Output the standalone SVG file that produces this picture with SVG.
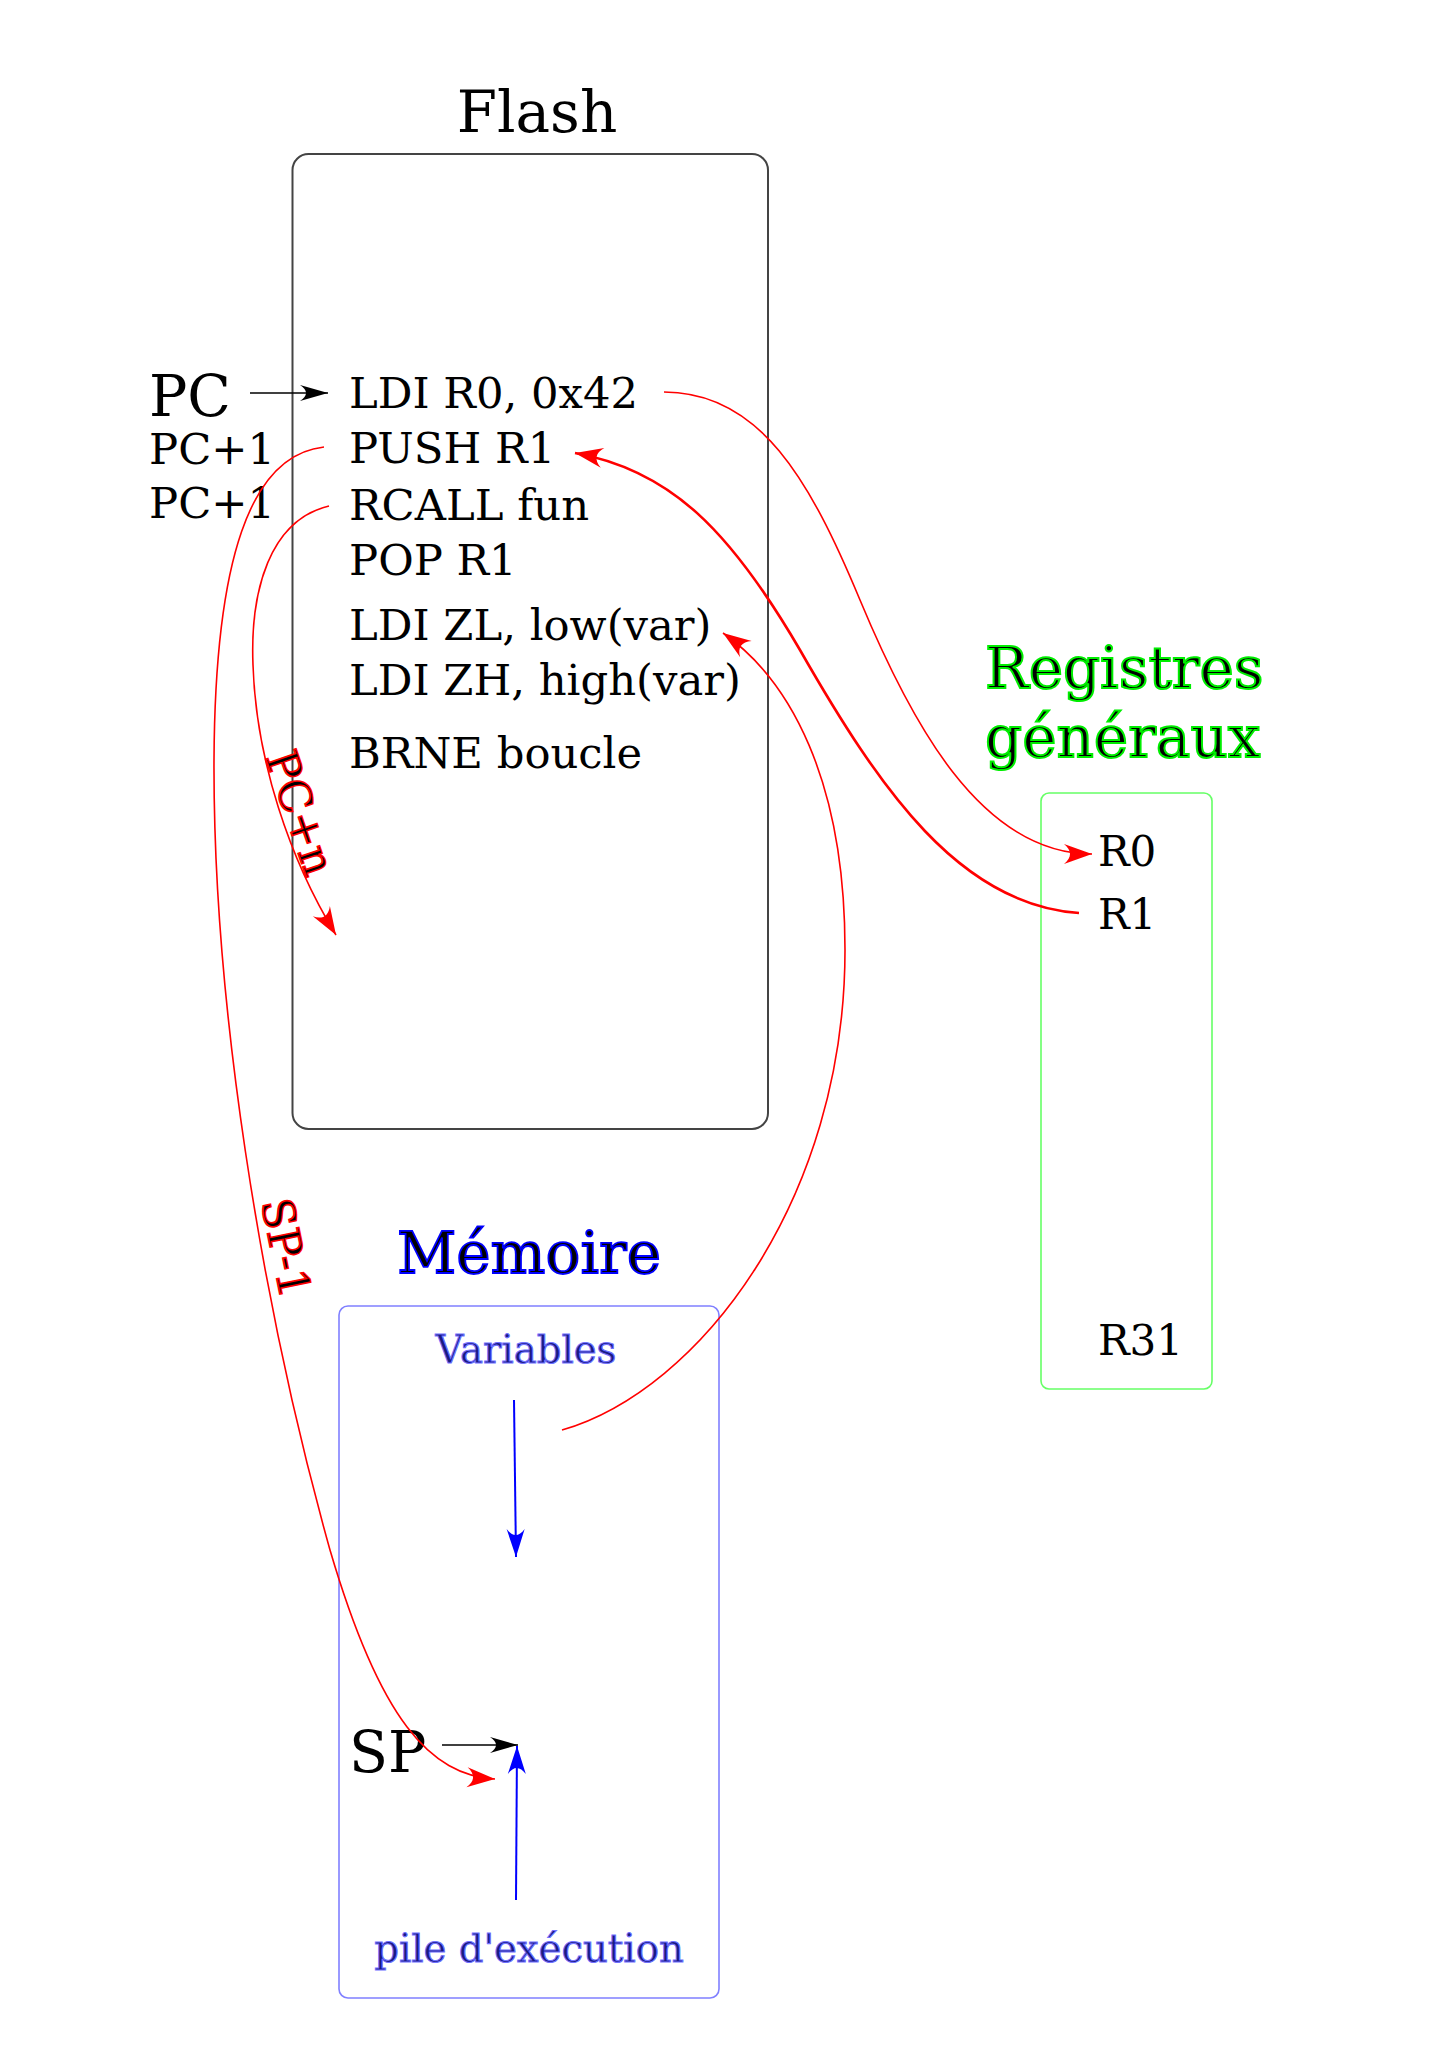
<svg xmlns="http://www.w3.org/2000/svg" width="1448" height="2047" viewBox="0 0 1448 2047">
<style>
text{font-family:"DejaVu Serif","Liberation Serif",serif;}
.code{font-size:43.3px;fill:#000;}
.big{font-size:57px;fill:#000;}
.title{font-size:58px;}
.reg{font-size:42px;fill:#000;}
.sub{font-size:38.6px;fill:#1a1a80;stroke:#7070ff;stroke-width:1.1;}
.rot{font-size:44px;fill:#000;stroke:#ff0000;stroke-width:1.6;}
.red{fill:none;stroke:#ff0000;stroke-width:1.6;}
.redthick{fill:none;stroke:#ff0000;stroke-width:2.6;}
.blk{fill:none;stroke:#000;stroke-width:1.6;}
.blu{fill:none;stroke:#0000ff;stroke-width:2;}
</style>
<defs>
<marker id="ar" markerUnits="userSpaceOnUse" markerWidth="40" markerHeight="40" refX="0" refY="0" orient="auto" overflow="visible">
<path d="M0,0 L-28,-10 C-20,-3.5 -20,3.5 -28,10 Z" fill="#ff0000"/>
</marker>
<marker id="ak" markerUnits="userSpaceOnUse" markerWidth="40" markerHeight="40" refX="0" refY="0" orient="auto" overflow="visible">
<path d="M0,0 L-28,-8 C-20,-3 -20,3 -28,8 Z" fill="#000"/>
</marker>
<marker id="ab" markerUnits="userSpaceOnUse" markerWidth="40" markerHeight="40" refX="0" refY="0" orient="auto" overflow="visible">
<path d="M0,0 L-28,-9 C-20,-3 -20,3 -28,9 Z" fill="#0000ff"/>
</marker>
</defs>
<rect width="1448" height="2047" fill="#fff"/>

<g id="flash">
<text x="537" y="132" class="title" text-anchor="middle" fill="#000">Flash</text>
<rect x="292.5" y="154" width="475.5" height="975" rx="16" ry="16" fill="none" stroke="#444" stroke-width="2"/>
<text x="349" y="408" class="code">LDI R0, 0x42</text>
<text x="349" y="463" class="code">PUSH R1</text>
<text x="349" y="520" class="code">RCALL fun</text>
<text x="349" y="575" class="code">POP R1</text>
<text x="349" y="640" class="code">LDI ZL, low(var)</text>
<text x="349" y="695" class="code">LDI ZH, high(var)</text>
<text x="349" y="768" class="code">BRNE boucle</text>
</g>

<g id="pc">
<text x="149" y="416" class="big">PC</text>
<text x="149" y="464" class="code">PC+1</text>
<text x="149" y="518" class="code">PC+1</text>
</g>

<g id="registres">
<text x="985" y="688" class="title" fill="#000" stroke="#00ee00" stroke-width="2">Registres</text>
<text x="985" y="757" class="title" fill="#000" stroke="#00ee00" stroke-width="2">généraux</text>
<rect x="1041" y="793" width="171" height="596" rx="8" ry="8" fill="none" stroke="#66ff66" stroke-width="1.6"/>
<text x="1098" y="866" class="reg">R0</text>
<text x="1098" y="929" class="reg">R1</text>
<text x="1098" y="1355" class="reg">R31</text>
</g>

<g id="memoire">
<text x="529" y="1273" class="title" text-anchor="middle" fill="#000" stroke="#0000ff" stroke-width="1.8">Mémoire</text>
<rect x="339" y="1306" width="380" height="692" rx="9" ry="9" fill="none" stroke="#8080ff" stroke-width="1.6"/>
<text x="526" y="1363" class="sub" text-anchor="middle">Variables</text>
<text x="529" y="1962" class="sub" text-anchor="middle">pile d'exécution</text>
<text x="349" y="1772" class="big">SP</text>
</g>

<g id="connectors">
<path class="blk" d="M250,393 L328,393" marker-end="url(#ak)"/>
<path class="blk" d="M442,1745 L518,1745" marker-end="url(#ak)"/>
<path class="blu" d="M514,1400 L516,1557" marker-end="url(#ab)"/>
<path class="blu" d="M516,1900 L517,1746" marker-end="url(#ab)"/>
<path class="red" d="M664,392 C760,392 810,480 860,600 S980,854 1092,854" marker-end="url(#ar)"/>
<path class="redthick" d="M1079,913 C960,905 880,790 800,650 C730,530 670,470 575,453" marker-end="url(#ar)"/>
<path class="red" d="M562,1430 C700,1390 845,1200 845,950 C845,780 790,680 723,633" marker-end="url(#ar)"/>
<path class="red" d="M324,447 C250,455 215,560 214,760 C213,1000 260,1300 330,1550 C380,1720 430,1775 495,1779" marker-end="url(#ar)"/>
<path class="red" d="M329,506 C270,520 250,590 253,665 C256,760 290,860 336,935" marker-end="url(#ar)"/>
<text class="rot" transform="translate(265,757) rotate(71)">PC+n</text>
<text class="rot" transform="translate(261,1202) rotate(78.5)">SP-1</text>
</g>
</svg>
